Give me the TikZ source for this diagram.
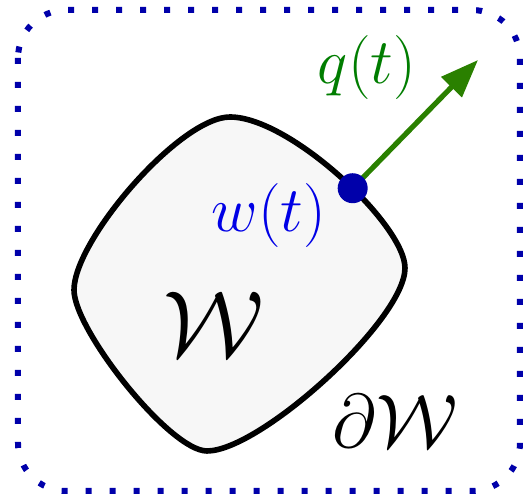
\RequirePackage{fix-cm}
\documentclass[tikz,border=0pt]{standalone}
\usetikzlibrary{arrows.meta}
\definecolor{dotblue}{RGB}{0,0,170}
\definecolor{arrowgreen}{RGB}{42,128,0}
\definecolor{labelgreen}{RGB}{0,125,0}
\definecolor{labelblue}{RGB}{0,0,230}
\begin{document}
\begin{tikzpicture}[x=0.5pt, y=-0.5pt,
  frame/.style={dotblue, line width=3pt, dash pattern=on 3pt off 9pt, rounded corners=24pt},
  region/.style={draw=black, line width=2.8pt, fill=black!3},
  bigmath/.style={font=\fontsize{32}{38}\selectfont}]
\useasboundingbox (0,0) rectangle (527,497);
% outer domain
\draw[frame] (18,10) rectangle (520,491);
% the region W and its boundary
\draw[region] (230,117) .. controls (290,117) and (405,225) .. coordinate[pos=0.56] (w) (405,268)
  .. controls (405,320) and (260,451) .. (207,451)
  .. controls (170,451) and (74,330) .. (74,290)
  .. controls (74,240) and (180,117) .. cycle;
\coordinate (tip) at (478,60);
\draw[arrowgreen, line width=2.6pt, -{Triangle[length=19pt, width=14pt]}] (w) -- (tip);
\fill[dotblue] (w) circle (7.5pt);
\node[bigmath, text=labelgreen] (qlab) at (367,68) {$q(t)$};
\node[bigmath, text=labelblue] (wlab) at (269,216) {$w(t)$};
\node[font=\fontsize{47}{54}\selectfont] (Wlab) at (214,324) {$\mathcal{W}$};
\node[font=\fontsize{38}{44}\selectfont] (dWlab) at (395,421) {$\partial\mathcal{W}$};
\end{tikzpicture}
\end{document}
